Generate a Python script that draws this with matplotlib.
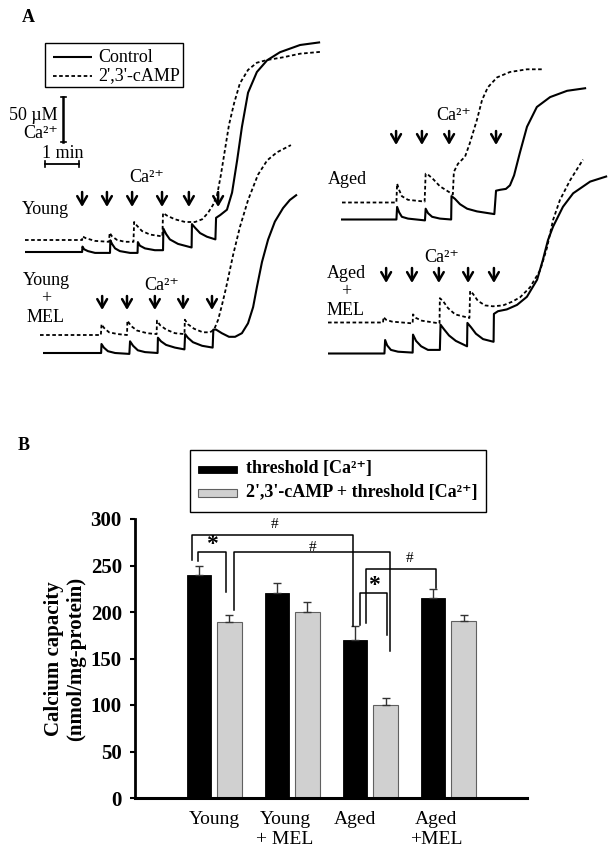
import numpy as np
import matplotlib
matplotlib.use('Agg')
import matplotlib.pyplot as plt
from matplotlib.patches import Rectangle
from matplotlib.lines import Line2D

plt.rcParams['font.family'] = ['Liberation Serif', 'DejaVu Serif']

# ===================== Panel A data (time in min, Ca2+ in uM above baseline) =====================
young_ctrl_t = [0, 1.68, 1.69, 1.74, 1.85, 2.06, 2.50, 2.51, 2.56, 2.65, 2.79, 3.09, 3.31, 3.32, 3.38, 3.53,
                3.82, 4.06, 4.07, 4.15, 4.26, 4.50, 4.90, 4.91, 5.00, 5.15, 5.35, 5.60, 5.62, 5.74, 5.94,
                6.09, 6.24, 6.38, 6.56, 6.82, 7.12, 7.50, 8.09, 8.68]
young_ctrl_ca = [0, 0, 6, 3, 1, -1, -1, 13, 9, 4, 1, -1, -1, 11, 7, 4,
                 2, 2, 26, 20, 14, 9, 5, 31, 27, 21, 17, 14, 38, 41, 47,
                 66, 102, 139, 177, 200, 213, 222, 230, 233]

young_camp_t = [0, 1.68, 1.69, 1.79, 2.06, 2.47, 2.49, 2.56, 2.71, 2.94, 3.19, 3.21, 3.29, 3.44, 3.68, 4.04,
                4.06, 4.18, 4.41, 4.71, 5.00, 5.21, 5.38, 5.53, 5.65, 5.76, 5.88, 6.00, 6.15, 6.32, 6.56,
                6.82, 7.12, 7.59, 8.09, 8.68]
young_camp_ca = [0, 0, 4, 2, -1, -2, 8, 4, 0, -2, -2, 20, 16, 10, 6, 4,
                 30, 27, 23, 20, 20, 23, 30, 39, 50, 72, 100, 128, 152, 174, 189,
                 197, 200, 203, 207, 209]

youngmel_ctrl_t = [0, 1.71, 1.72, 1.79, 1.91, 2.12, 2.54, 2.56, 2.65, 2.79, 3.00, 3.37, 3.38, 3.47, 3.62, 3.88,
                   4.16, 4.18, 4.26, 4.41, 4.68, 4.99, 5.01, 5.09, 5.26, 5.47, 5.65, 5.85, 6.03, 6.18, 6.29,
                   6.44, 6.62, 6.82, 7.06, 7.26, 7.47]
youngmel_ctrl_ca = [0, 0, 10, 6, 2, 0, -1, 13, 8, 3, 1, 0, 17, 13, 9, 6,
                    4, 21, 17, 12, 8, 6, 26, 26, 22, 18, 18, 22, 33, 51, 73,
                    101, 126, 146, 161, 170, 176]

youngmel_camp_t = [0, 1.79, 1.81, 1.88, 2.03, 2.29, 2.56, 2.57, 2.68, 2.85, 3.15, 3.43, 3.44, 3.53, 3.71, 3.97,
                   4.25, 4.26, 4.35, 4.53, 4.79, 5.00, 5.12, 5.24, 5.35, 5.47, 5.68, 5.88, 6.12, 6.41, 6.68,
                   6.97, 7.38]
youngmel_camp_ca = [0, 0, 12, 8, 3, 1, 0, 16, 10, 5, 2, 1, 16, 11, 6, 2,
                    1, 17, 12, 7, 3, 3, 6, 17, 33, 52, 89, 120, 150, 178, 194,
                    203, 211]

aged_ctrl_t = [0, 1.63, 1.65, 1.71, 1.79, 1.97, 2.47, 2.49, 2.56, 2.68, 2.91, 3.24, 3.25, 3.35, 3.50, 3.71,
               4.00, 4.51, 4.56, 4.68, 4.85, 4.97, 5.09, 5.26, 5.47, 5.76, 6.15, 6.65, 7.21]
aged_ctrl_ca = [0, 0, 14, 8, 3, 1, -1, 12, 7, 3, 1, 0, 26, 23, 17, 12,
                9, 6, 32, 33, 34, 38, 49, 74, 103, 125, 136, 143, 146]

aged_camp_t = [0, 1.60, 1.62, 1.68, 1.76, 1.94, 2.43, 2.46, 2.53, 2.68, 2.88, 3.09, 3.26, 3.29, 3.41, 3.62,
               3.76, 3.97, 4.12, 4.29, 4.56, 4.94, 5.44, 5.91]
aged_camp_ca = [0, 0, 21, 14, 7, 3, 1, 32, 31, 26, 18, 13, 9, 34, 43, 51,
                66, 92, 114, 128, 139, 145, 148, 148]

agedmel_ctrl_t = [0, 1.66, 1.68, 1.74, 1.85, 2.06, 2.49, 2.50, 2.59, 2.74, 2.94, 3.29, 3.31, 3.41, 3.56, 3.76,
                  4.09, 4.10, 4.21, 4.35, 4.56, 4.87, 4.88, 5.00, 5.26, 5.56, 5.85, 6.15, 6.32, 6.47, 6.62,
                  6.91, 7.21, 7.71, 8.21]
agedmel_ctrl_ca = [0, 0, 15, 9, 4, 2, 1, 21, 14, 8, 4, 4, 32, 27, 20, 14,
                   8, 34, 29, 22, 16, 13, 44, 47, 49, 54, 63, 82, 104, 126, 141,
                   163, 178, 191, 197]

agedmel_camp_t = [0, 1.62, 1.63, 1.71, 1.88, 2.49, 2.50, 2.59, 2.76, 3.28, 3.29, 3.38, 3.53, 3.74, 4.16, 4.18,
                  4.26, 4.41, 4.62, 4.85, 5.15, 5.41, 5.65, 5.94, 6.24, 6.44, 6.62, 6.82, 7.12, 7.50]
agedmel_camp_ca = [0, 0, 6, 3, 1, -1, 9, 5, 2, -1, 27, 24, 16, 9, 5, 35,
                   32, 24, 19, 18, 19, 23, 28, 39, 58, 83, 114, 136, 158, 181]

# Ca2+ addition times (min from trace start)
young_additions = [1.68, 2.41, 3.15, 4.03, 4.82, 5.68]
youngmel_additions = [1.74, 2.47, 3.29, 4.12, 4.97]
aged_additions = [1.62, 2.38, 3.18, 4.56]
agedmel_additions = [1.71, 2.47, 3.26, 4.12, 4.88]

trace_names = ['Control', "2',3'-cAMP"]

# ===================== Panel B data =====================
groups = ['Young', 'Young\n+ MEL', 'Aged', 'Aged\n+MEL']
threshold = [240, 220, 170, 215]
threshold_err = [10, 11, 15, 10]
camp_threshold = [189, 200, 100, 190]
camp_threshold_err = [8, 11, 7, 7]
yticks_B = [0, 50, 100, 150, 200, 250, 300]
series_B = ['threshold [Ca²⁺]', "2',3'-cAMP + threshold [Ca²⁺]"]

# significance brackets: x_left, x_right, y_top, y_left_end, y_right_end, mark, mark_x, mark_y
brackets = [
    (-0.28, 1.78, 283, 256, 184.5, '#', 0.78, 294),
    (-0.20, 0.15, 265, 255, 221, '*', -0.03, 273),
    (0.26, 2.26, 265, 202, 158, '#', 1.26, 269),
    (1.95, 2.85, 246, 188, 226, '#', 2.50, 258),
    (1.87, 2.21, 220.5, 186, 175, '*', 2.05, 228),
]

# ===================== Figure =====================
FIG_W, FIG_H = 614, 865
fig = plt.figure(figsize=(FIG_W / 100, FIG_H / 100), dpi=100)

PXM = 34.0   # px per minute (scale bar)
PXU = 0.9    # px per uM (50 uM = 45 px)
A_H = 440

axA = fig.add_axes([0, 1 - A_H / FIG_H, 1, A_H / FIG_H])
axA.set_xlim(0, FIG_W / PXM)
axA.set_ylim(0, A_H / PXU)
axA.axis('off')


def X(px):
    return px / PXM


def Y(py):
    return (A_H - py) / PXU


solid_kw = dict(color='black', lw=1.5, solid_capstyle='butt')
dash_kw = dict(color='black', lw=1.3, linestyle=(0, (2.0, 1.4)))

traces = [
    (young_ctrl_t, young_ctrl_ca, (25, 252), solid_kw),
    (young_camp_t, young_camp_ca, (25, 240), dash_kw),
    (youngmel_ctrl_t, youngmel_ctrl_ca, (43, 353), solid_kw),
    (youngmel_camp_t, youngmel_camp_ca, (40, 335), dash_kw),
    (aged_ctrl_t, aged_ctrl_ca, (341, 219.5), solid_kw),
    (aged_camp_t, aged_camp_ca, (342, 202.5), dash_kw),
    (agedmel_ctrl_t, agedmel_ctrl_ca, (328, 353.5), solid_kw),
    (agedmel_camp_t, agedmel_camp_ca, (328, 322.5), dash_kw),
]
for t, ca, (x0, y0), kw in traces:
    axA.plot(X(x0) + np.array(t), Y(y0) + np.array(ca), **kw)

arrow_sets = [
    (young_additions, 25, (192, 207)),
    (youngmel_additions, 43, (296, 310)),
    (aged_additions, 341, (131, 145)),
    (agedmel_additions, 328, (268, 283)),
]
for adds, x0, (ytop, ybot) in arrow_sets:
    for ta in adds:
        axA.annotate('', xy=(X(x0) + ta, Y(ybot)), xytext=(X(x0) + ta, Y(ytop)),
                     arrowprops=dict(arrowstyle='->,head_length=0.55,head_width=0.32',
                                     lw=1.8, color='black', shrinkA=0, shrinkB=0,
                                     mutation_scale=11))

# scale bars: 50 uM and 1 min
sx, sy = X(63), Y(142)
axA.plot([sx, sx], [sy, sy + 50], color='black', lw=1.8)
axA.plot([sx - X(2.5), sx + X(2.5)], [sy, sy], color='black', lw=1.2)
axA.plot([sx - X(2.5), sx + X(2.5)], [sy + 50, sy + 50], color='black', lw=1.2)
hx, hy = X(45), Y(164)
axA.plot([hx, hx + 1], [hy, hy], color='black', lw=1.3)
axA.plot([hx, hx], [hy - 3, hy + 3], color='black', lw=1.2)
axA.plot([hx + 1, hx + 1], [hy - 3, hy + 3], color='black', lw=1.2)

# ===================== Panel B =====================
axB = fig.add_axes([135 / FIG_W, 1 - 798 / FIG_H, (527 - 135) / FIG_W, (798 - 519) / FIG_H])
xg = np.arange(len(groups))
bw, off = 0.31, 0.197
axB.bar(xg - off, threshold, bw, color='black', edgecolor='black', lw=0.6, zorder=2)
axB.bar(xg + off, camp_threshold, bw, color='#d0d0d0', edgecolor='#606060', lw=0.8, zorder=2)
axB.errorbar(xg - off, threshold, yerr=[np.zeros(len(groups)), threshold_err], fmt='none',
             ecolor='#333333', elinewidth=1.0, capsize=3.2, capthick=1.0, zorder=3)
axB.errorbar(xg + off, camp_threshold, yerr=[np.zeros(len(groups)), camp_threshold_err], fmt='none',
             ecolor='#333333', elinewidth=1.0, capsize=3.2, capthick=1.0, zorder=3)
axB.set_xlim(-1.013, 4.01)
axB.set_ylim(0, 300)
for s in ['top', 'right']:
    axB.spines[s].set_visible(False)
axB.spines['left'].set_linewidth(2.0)
axB.spines['bottom'].set_linewidth(2.2)
axB.set_yticks(yticks_B)
axB.set_yticklabels([str(v) for v in yticks_B], fontsize=15, fontweight='bold')
axB.tick_params(axis='y', direction='out', length=3.5, width=1.5, pad=6)
axB.set_xticks([0.0, 0.91, 1.81, 2.85])
axB.set_xticklabels(groups, fontsize=14)
axB.tick_params(axis='x', length=0, pad=9)
for lab in axB.get_xticklabels():
    lab.set_linespacing(1.3)
axB.set_ylabel('Calcium capacity\n(nmol/mg-protein)', fontsize=15, fontweight='bold',
               labelpad=3, linespacing=1.15)

for xl, xr, yt, yl, yr, mark, mx, my in brackets:
    axB.plot([xl, xl, xr, xr], [yl, yt, yt, yr], color='black', lw=1.1, zorder=4)
    if mark == '*':
        axB.text(mx, my, mark, ha='center', va='center', fontsize=17, fontweight='bold')
    else:
        axB.text(mx, my, mark, ha='center', va='center', fontsize=11)

# ===================== overlay (pixel coordinates) for labels / legends =====================
ov = fig.add_axes([0, 0, 1, 1])
ov.set_xlim(0, FIG_W)
ov.set_ylim(FIG_H, 0)
ov.axis('off')

ov.text(22, 18, 'A', fontsize=13, fontweight='bold', ha='left', va='center')
ov.text(18, 445, 'B', fontsize=13, fontweight='bold', ha='left', va='center')

# legend A
ov.add_patch(Rectangle((45, 43), 138, 44, fill=False, lw=1.0, edgecolor='black'))
ov.add_line(Line2D([53, 92], [57, 57], **solid_kw))
ov.add_line(Line2D([53, 92], [76, 76], **dash_kw))
ov.text(98, 57, trace_names[0], fontsize=13, ha='left', va='center')
ov.text(98, 75.5, trace_names[1], fontsize=13, ha='left', va='center')

# scale bar labels
ov.text(58, 115, '50 µM', fontsize=13, ha='right', va='center')
ov.text(58, 133, 'Ca²⁺', fontsize=13, ha='right', va='center')
ov.text(63, 154, '1 min', fontsize=13, ha='center', va='center')

# group labels
ov.text(22, 210, 'Young', fontsize=13, ha='left', va='center')
ov.text(46, 299, 'Young\n+\nMEL', fontsize=13, ha='center', va='center', linespacing=1.1)
ov.text(328, 180, 'Aged', fontsize=13, ha='left', va='center')
ov.text(346, 292, 'Aged\n+\nMEL', fontsize=13, ha='center', va='center', linespacing=1.1)
for cx, cy in [(147, 178), (162, 286), (454, 116), (442, 258)]:
    ov.text(cx, cy, 'Ca²⁺', fontsize=13, ha='center', va='center')

# legend B
ov.add_patch(Rectangle((190, 450), 296, 62, fill=False, lw=1.0, edgecolor='black'))
ov.add_patch(Rectangle((198, 466), 39, 7, facecolor='black', edgecolor='black', lw=0.6))
ov.add_patch(Rectangle((198, 489), 39, 8, facecolor='#d0d0d0', edgecolor='#606060', lw=0.8))
ov.text(246, 469, series_B[0], fontsize=13, fontweight='bold', ha='left', va='center')
ov.text(246, 492, series_B[1], fontsize=13, fontweight='bold', ha='left', va='center')

fig.savefig('out.png', dpi=100)
